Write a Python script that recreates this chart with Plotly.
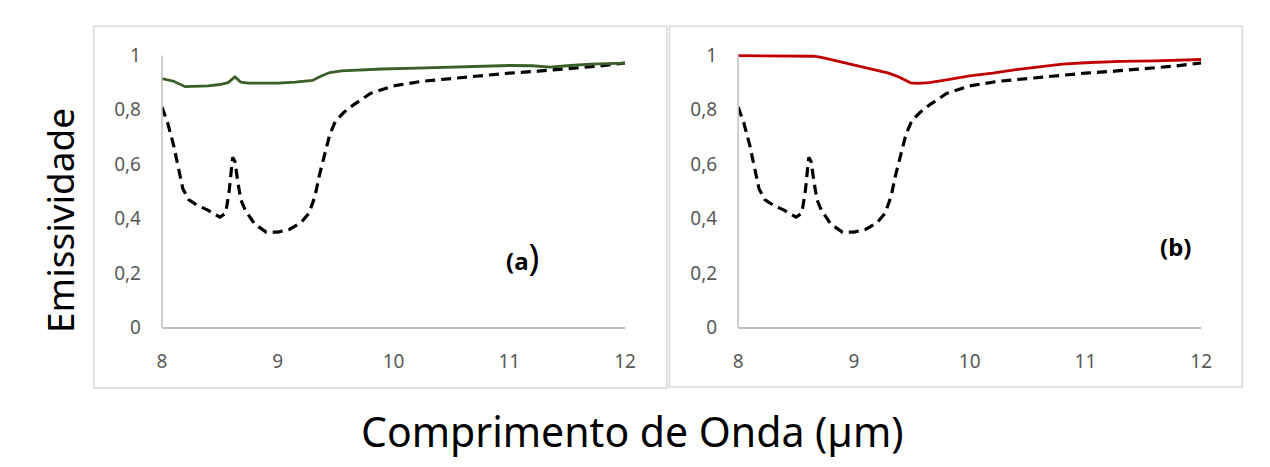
import plotly.graph_objects as go

# Reference (dashed) curve, shared by both panels
wl_ref = [8.0, 8.05, 8.1, 8.14, 8.18, 8.23, 8.3, 8.4, 8.5, 8.55, 8.58, 8.61, 8.63, 8.65, 8.68, 8.72,
          8.8, 8.9, 9.0, 9.1, 9.2, 9.27, 9.32, 9.36, 9.4, 9.45, 9.5, 9.57, 9.66, 9.8, 10.0, 10.25,
          10.5, 10.75, 11.0, 11.25, 11.5, 11.75, 12.0]
em_ref = [0.81, 0.75, 0.67, 0.59, 0.51, 0.47, 0.45, 0.43, 0.405, 0.42, 0.5, 0.625, 0.61, 0.55, 0.47, 0.43,
          0.38, 0.35, 0.35, 0.36, 0.385, 0.42, 0.48, 0.56, 0.63, 0.71, 0.76, 0.79, 0.82, 0.86, 0.888, 0.905,
          0.915, 0.925, 0.935, 0.942, 0.95, 0.96, 0.972]

# Panel (a) green curve
wl_a = [8.0, 8.1, 8.2, 8.3, 8.4, 8.5, 8.57, 8.63, 8.68, 8.75, 8.9, 9.0, 9.15, 9.3, 9.38, 9.45, 9.55,
        9.7, 9.9, 10.2, 10.5, 10.8, 11.0, 11.2, 11.35, 11.5, 11.7, 12.0]
em_a = [0.915, 0.905, 0.885, 0.887, 0.888, 0.893, 0.9, 0.921, 0.902, 0.898, 0.897, 0.898, 0.902, 0.908,
        0.925, 0.937, 0.943, 0.947, 0.95, 0.953, 0.957, 0.961, 0.963, 0.962, 0.957, 0.962, 0.968, 0.972]

# Panel (b) red curve
wl_b = [8.0, 8.3, 8.55, 8.65, 8.72, 8.8, 8.9, 9.0, 9.1, 9.2, 9.3, 9.38, 9.44, 9.49, 9.55, 9.65, 9.8,
        10.0, 10.2, 10.4, 10.6, 10.8, 11.0, 11.3, 11.6, 12.0]
em_b = [0.999, 0.998, 0.998, 0.997, 0.993, 0.985, 0.975, 0.965, 0.955, 0.946, 0.935, 0.922, 0.908,
        0.899, 0.897, 0.9, 0.91, 0.925, 0.935, 0.948, 0.958, 0.968, 0.973, 0.978, 0.98, 0.985]

x_ticks = [8, 9, 10, 11, 12]
y_ticks = [0, 0.2, 0.4, 0.6, 0.8, 1]

W, H = 1270, 467
def px(x): return x / W
def py(y): return (H - y) / H

fig = go.Figure()
dash = "10px,6px"
fig.add_trace(go.Scatter(x=wl_ref, y=em_ref, mode="lines", line=dict(color="black", width=3.2, dash=dash),
                         xaxis="x", yaxis="y", showlegend=False))
fig.add_trace(go.Scatter(x=wl_a, y=em_a, mode="lines", line=dict(color="#3b5f28", width=2.8),
                         xaxis="x", yaxis="y", showlegend=False))
fig.add_trace(go.Scatter(x=wl_ref, y=em_ref, mode="lines", line=dict(color="black", width=3.2, dash=dash),
                         xaxis="x2", yaxis="y2", showlegend=False))
fig.add_trace(go.Scatter(x=wl_b, y=em_b, mode="lines", line=dict(color="#c00000", width=2.8),
                         xaxis="x2", yaxis="y2", showlegend=False))

y0, y1 = 336.7, 57.0  # pixel rows of 0 and 1
ytop = 1.05
ppu = (y0 - y1)
ydom = [py(y0), py(y1 - (ytop - 1) * ppu)]

tickfont = dict(family="Noto Sans", size=19, color="#595959")
xax = dict(range=[8, 12], tickvals=x_ticks, showgrid=False, zeroline=False, showline=True,
           linecolor="#bfbfbf", linewidth=1.5, ticks="", tickfont=tickfont, ticklabelstandoff=16)
yax = dict(range=[0, ytop], tickvals=y_ticks, showgrid=False, zeroline=False, showline=False,
           ticks="", tickfont=tickfont, ticklabelstandoff=20)

fig.update_layout(
    width=W, height=H, margin=dict(l=0, r=0, t=0, b=0),
    paper_bgcolor="white", plot_bgcolor="white", separators=",.",
    xaxis=dict(domain=[px(159), px(628)], anchor="y", **xax),
    yaxis=dict(domain=ydom, anchor="x", **yax),
    xaxis2=dict(domain=[px(742.5), px(1211.5)], anchor="y2", **xax),
    yaxis2=dict(domain=ydom, anchor="x2", **yax),
    shapes=[
        dict(type="rect", xref="paper", yref="paper", x0=px(90), x1=px(670.5), y0=py(399), y1=py(27),
             line=dict(color="#d9d9d9", width=1.5)),
        dict(type="rect", xref="paper", yref="paper", x0=px(673), x1=px(1253), y0=py(398), y1=py(27),
             line=dict(color="#d9d9d9", width=1.5)),
        dict(type="line", xref="x domain", yref="y", x0=0, x1=0, y0=0, y1=1,
             line=dict(color="#bfbfbf", width=1.5)),
        dict(type="line", xref="x2 domain", yref="y2", x0=0, x1=0, y0=0, y1=1,
             line=dict(color="#bfbfbf", width=1.5)),
    ],
    annotations=[
        dict(text="<b>(a</b><span style='font-size:36px'>)</span>", xref="paper", yref="paper",
             x=px(524), y=py(264), xanchor="center", yanchor="middle", showarrow=False,
             font=dict(family="Noto Sans", size=24, color="black")),
        dict(text="<b>(b)</b>", xref="paper", yref="paper", x=px(1185), y=py(254),
             xanchor="center", yanchor="middle", showarrow=False,
             font=dict(family="Noto Sans", size=24, color="black")),
        dict(text="Emissividade", xref="paper", yref="paper", x=px(55), y=py(227), textangle=-90,
             xanchor="center", yanchor="middle",
             showarrow=False, font=dict(family="Noto Sans", size=37, color="black")),
        dict(text="Comprimento de Onda (µm)", xref="paper", yref="paper", x=px(636), y=py(443),
             xanchor="center", yanchor="middle",
             showarrow=False, font=dict(family="Noto Sans", size=41, color="black")),
    ],
)

fig.write_html("out.html")
